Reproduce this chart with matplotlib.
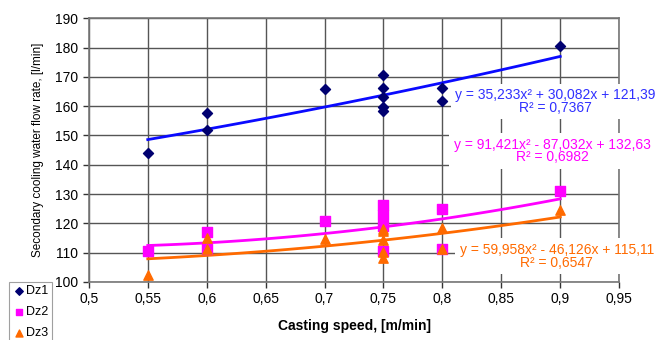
import numpy as np
import matplotlib.pyplot as plt
from matplotlib.ticker import FuncFormatter

plt.rcParams['font.family'] = ['Liberation Sans', 'DejaVu Sans']

# Dz1 - measured points
dz1_x = [0.55, 0.6, 0.6, 0.7, 0.75, 0.75, 0.75, 0.75, 0.75, 0.8, 0.8, 0.9]
dz1_y = [144.1, 157.7, 151.7, 166.0, 170.7, 166.1, 163.1, 159.6, 158.4, 166.1, 161.9, 180.6]

# Dz2
dz2_x = [0.55, 0.6, 0.6, 0.7, 0.75, 0.75, 0.75, 0.75, 0.8, 0.8, 0.9]
dz2_y = [110.6, 116.9, 111.3, 120.9, 126.2, 123.0, 119.2, 110.5, 125.0, 111.2, 131.0]

# Dz3
dz3_x = [0.55, 0.6, 0.6, 0.7, 0.75, 0.75, 0.75, 0.75, 0.75, 0.8, 0.8, 0.9]
dz3_y = [102.4, 114.9, 111.3, 114.5, 118.0, 117.4, 114.4, 110.3, 108.2, 118.3, 111.3, 124.6]

# trend lines (2nd order polynomial, coefficients from the chart)
dz1_coef = [35.233, 30.082, 121.39]
dz2_coef = [91.421, -87.032, 132.63]
dz3_coef = [59.958, -46.126, 115.11]

eq1 = ["y = 35,233x² + 30,082x + 121,39", "R² = 0,7367"]
eq2 = ["y = 91,421x² - 87,032x + 132,63", "R² = 0,6982"]
eq3 = ["y = 59,958x² - 46,126x + 115,11", "R² = 0,6547"]

x_ticks = [0.5, 0.55, 0.6, 0.65, 0.7, 0.75, 0.8, 0.85, 0.9, 0.95]
y_ticks = [100, 110, 120, 130, 140, 150, 160, 170, 180, 190]

fig = plt.figure(figsize=(6.58, 3.40), dpi=100)
ax = fig.add_axes([0.135, 0.171, 0.806, 0.775])

ax.set_xlim(0.5, 0.95)
ax.set_ylim(100, 190)
ax.set_xticks(x_ticks)
ax.set_yticks(y_ticks)
ax.xaxis.set_major_formatter(FuncFormatter(lambda v, p: ('%g' % v).replace('.', ',')))
ax.grid(True, color='#555555', linewidth=1.0)
ax.set_axisbelow(True)
for s in ax.spines.values():
    s.set_color('#777777')
    s.set_linewidth(1.2)
ax.tick_params(colors='#333333', labelsize=10, length=4, width=1)
for lab in ax.get_xticklabels() + ax.get_yticklabels():
    lab.set_color('black')

xx = np.linspace(0.55, 0.9, 100)
ax.plot(xx, np.polyval(dz1_coef, xx), color='#0a0aff', lw=2, zorder=3)
ax.plot(xx, np.polyval(dz2_coef, xx), color='#ff00ff', lw=2, zorder=3)
ax.plot(xx, np.polyval(dz3_coef, xx), color='#ff6a00', lw=2, zorder=3)

ax.scatter(dz1_x, dz1_y, marker='D', s=26, color='#000070', zorder=4, label='Dz1')
ax.scatter(dz2_x, dz2_y, marker='s', s=45, color='#ff00ff', zorder=4, label='Dz2')
ax.scatter(dz3_x, dz3_y, marker='^', s=45, color='#ff6a00', zorder=4, label='Dz3')

# equation labels on white boxes, drawn over grid and frame
box = dict(facecolor='white', edgecolor='none', pad=3)
ax.text(0.896, 161.5, "\n".join(eq1), color='#3030ff', fontsize=10, ha='center', va='center',
        linespacing=0.9, bbox=box, zorder=3.5)
ax.text(0.893, 144.7, "\n".join(eq2), color='#ff00ff', fontsize=10, ha='center', va='center',
        linespacing=0.9, bbox=box, zorder=3.5)
ax.text(0.897, 108.8, "\n".join(eq3), color='#ff6a00', fontsize=10, ha='center', va='center',
        linespacing=0.9, bbox=box, zorder=3.5)

ax.set_xlabel("Casting speed, [m/min]", fontsize=10, fontweight='bold', labelpad=9)
ax.set_ylabel("Secondary cooling water flow rate, [l/min]", fontsize=8.5, labelpad=8)

leg = fig.legend(loc='upper left', bbox_to_anchor=(0.004, 0.19), fontsize=9,
                 frameon=True, fancybox=False, handletextpad=0.1, handlelength=1.0,
                 labelspacing=0.7, borderpad=0.3, markerscale=0.75)
leg.get_frame().set_edgecolor('#888888')
leg.get_frame().set_linewidth(0.8)

plt.savefig('out.png', dpi=100)
